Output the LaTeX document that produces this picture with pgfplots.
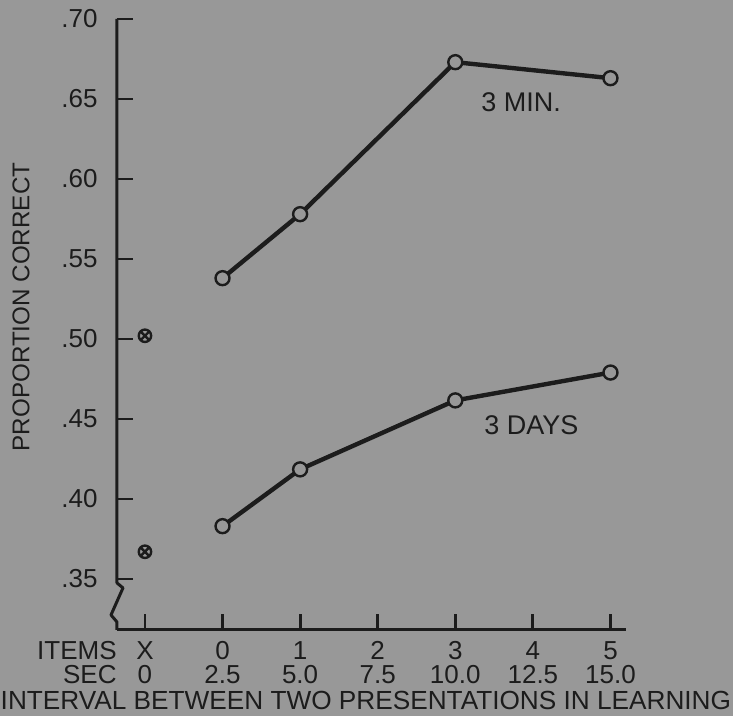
\documentclass[border=0pt]{standalone}
\usepackage{pgfplots}
\pgfplotsset{compat=1.18}
\usepackage{fontspec}
\setmainfont{Liberation Sans}
\usetikzlibrary{plotmarks}
\definecolor{paper}{RGB}{152,152,152}
\definecolor{ink}{RGB}{28,28,28}

\begin{document}
\begin{tikzpicture}
    % grey paper behind everything
    \fill[paper] (-58.5pt,-43pt) rectangle (308pt,315pt);
    \begin{axis}[
        scale only axis,
        width=254.5pt,
        height=305.5pt,
        xmin=-1.36, xmax=5.2,
        ymin=0.3181, ymax=0.70,
        clip=false,
        axis x line=bottom,
        axis y line=left,
        separate axis lines,
        axis line style={-, line width=1.5pt, ink},
        y axis line style={draw=none},
        tick align=inside,
        major tick length=8pt,
        tick style={line width=1.4pt, ink},
        xtick={-1,0,1,2,3,4,5},
        xticklabels={X\\0, 0\\2.5, 1\\5.0, 2\\7.5, 3\\10.0, 4\\12.5, 5\\15.0},
        xticklabel style={align=center, anchor=base, yshift=-27pt,
            font=\fontsize{13}{12}\selectfont, text=ink},
        ytick={0.35,0.40,0.45,0.50,0.55,0.60,0.65,0.70},
        yticklabels={.35,.40,.45,.50,.55,.60,.65,.70},
        yticklabel style={anchor=east, inner sep=0pt, xshift=-9.5pt,
            font=\fontsize{13}{12}\selectfont, text=ink},
        ylabel={PROPORTION CORRECT},
        ylabel style={at={(axis description cs:-0.1886,0.5286)}, anchor=center,
            font=\fontsize{12.1}{12}\selectfont, text=ink},
        xlabel={INTERVAL BETWEEN TWO PRESENTATIONS IN LEARNING},
        xlabel style={at={(axis description cs:0.489,-0.1309)}, anchor=base,
            font=\fontsize{13.1}{12}\selectfont, text=ink},
    ]
        % 3 min retention
        \addplot[ink, line width=2.2pt, mark=*, mark size=3.5pt,
            mark options={fill=paper, draw=ink, line width=1.2pt}]
            coordinates {(0,0.538) (1,0.578) (3,0.673) (5,0.663)};
        % 3 days retention
        \addplot[ink, line width=2.2pt, mark=*, mark size=3.5pt,
            mark options={fill=paper, draw=ink, line width=1.2pt}]
            coordinates {(0,0.383) (1,0.4185) (3,0.4616) (5,0.479)};
        % single presentation (X)
        \addplot[only marks, mark=otimes, mark size=3.1pt,
            mark options={draw=ink, line width=1.2pt}]
            coordinates {(-1,0.502) (-1,0.367)};

        \node[font=\fontsize{13.5}{12}\selectfont, text=ink] at (axis cs:3.85,0.648) {3 MIN.};
        \node[font=\fontsize{13.5}{12}\selectfont, text=ink] at (axis cs:3.98,0.446) {3 DAYS};

        % y axis with break
        \draw[ink, line width=1.5pt, line join=round]
            (axis cs:-1.36,0.70) -- (axis cs:-1.36,0.3475)
            -- ([xshift=3pt]axis cs:-1.36,0.3444)
            -- ([xshift=-3pt]axis cs:-1.36,0.3275)
            -- (axis cs:-1.36,0.3231) -- (axis cs:-1.36,0.3181);

        \node[anchor=base east, inner sep=0pt, font=\fontsize{13}{12}\selectfont, text=ink]
            at ([yshift=-15pt]rel axis cs:0,0) {ITEMS};
        \node[anchor=base east, inner sep=0pt, font=\fontsize{13}{12}\selectfont, text=ink]
            at ([yshift=-27pt]rel axis cs:0,0) {SEC};
    \end{axis}
    \pgfresetboundingbox
    \path (-58.5pt,-43pt) rectangle (308pt,315pt);
\end{tikzpicture}
\end{document}
